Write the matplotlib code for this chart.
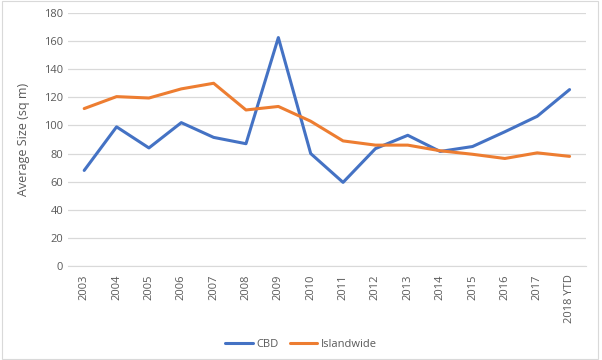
import matplotlib
matplotlib.use("Agg")
import matplotlib.pyplot as plt

years = ['2003', '2004', '2005', '2006', '2007', '2008', '2009', '2010',
         '2011', '2012', '2013', '2014', '2015', '2016', '2017', '2018 YTD']
cbd = [68, 99, 84, 102, 91.5, 87, 162.5, 80, 59.5, 83.5, 93, 81.5, 85, 95.5, 106.5, 125.5]
islandwide = [112, 120.5, 119.5, 126, 130, 111, 113.5, 103, 89, 86, 86, 82, 79.5, 76.5, 80.5, 78]

plt.rcParams['font.family'] = ['Open Sans', 'DejaVu Sans']

fig = plt.figure(figsize=(6.02, 3.60), dpi=100)
ax = fig.add_axes([0.113, 0.261, 0.86, 0.703])

x = range(len(years))
ax.plot(x, cbd, color='#4472c4', lw=2.2, label='CBD', solid_capstyle='round')
ax.plot(x, islandwide, color='#ed7d31', lw=2.2, label='Islandwide', solid_capstyle='round')

ax.set_xlim(-0.5, len(years) - 0.5)
ax.set_ylim(0, 180)
ax.set_yticks(range(0, 181, 20))
ax.set_xticks(list(x))
ax.set_xticklabels(years, rotation=90)
ax.grid(axis='y', color='#d9d9d9', lw=0.9)
ax.set_axisbelow(True)
for s in ['top', 'right', 'left']:
    ax.spines[s].set_visible(False)
ax.spines['bottom'].set_color('#d9d9d9')
ax.tick_params(length=0, colors='#595959', labelsize=8)
ax.tick_params(axis='x', pad=6)
ax.set_ylabel('Average Size (sq m)', color='#595959', fontsize=9, labelpad=10)

fig.legend(loc='lower center', bbox_to_anchor=(0.5, 0.0), ncol=2, frameon=False,
           fontsize=8, labelcolor='#595959', handlelength=2.5, columnspacing=1.0,
           handletextpad=0.3)

fig.patches.append(plt.Rectangle((0.003, 0.003), 0.99, 0.994, transform=fig.transFigure,
                                 fill=False, edgecolor='#d9d9d9', lw=0.8))

fig.savefig('out.png', dpi=100)
